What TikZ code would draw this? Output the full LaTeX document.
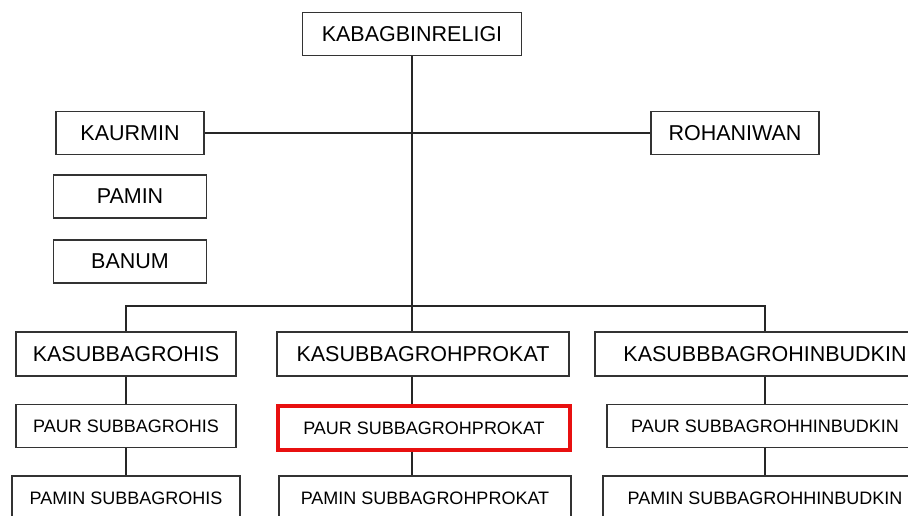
\documentclass[tikz,border=0pt]{standalone}
\usepackage{fontspec}
\setmainfont{Liberation Sans}
\usepackage{tikz}
\definecolor{markred}{RGB}{232,16,16}

\begin{document}
\begin{tikzpicture}[x=1pt,y=-1pt,node distance=72pt,
	main node/.style={rectangle,draw=black!80,line width=1.8pt,fill=white,inner sep=0pt,minimum height=43pt,font=\fontsize{21.5}{24}\selectfont},
	small node/.style={main node,font=\fontsize{18}{21}\selectfont},
	link/.style={draw=black!85,line width=2pt}]
		
		\useasboundingbox (0,0) rectangle (908,515);
		\clip (0,0) rectangle (908,515);
		
		\node[main node, minimum width=219pt] (kabag) at (412,34) {KABAGBINRELIGI};
		\node[main node, minimum width=148pt] (kaurmin) at (130,133) {KAURMIN};
		\node[main node, minimum width=153pt] (pamin) at (130,196.5) {PAMIN};
		\node[main node, minimum width=153pt] (banum) at (130,261.5) {BANUM};
		\node[main node, minimum width=168pt] (rohaniwan) at (735,133) {ROHANIWAN};
		\coordinate (bus) at (412,306);
		
		\node[main node, minimum width=220pt, minimum height=44pt] (kasubrohis) at (126,354) {KASUBBAGROHIS};
		\node[main node, minimum width=292pt, minimum height=44pt] (kasubprokat) at (423,354) {KASUBBAGROHPROKAT};
		\node[main node, minimum width=340pt, minimum height=44pt] (kasubhinbudkin) at (765,354) {KASUBBBAGROHINBUDKIN};
		
		\node[small node, minimum width=220pt] (paurrohis) [below of=kasubrohis] {PAUR SUBBAGROHIS};
		\node[small node, minimum width=228pt, minimum height=44pt] (paminrohis) [below of=paurrohis] {PAMIN SUBBAGROHIS};
		\node[small node, minimum width=292pt, minimum height=44pt, style={draw=markred, line width=3.2pt}] (paurprokat) at (424,428) {PAUR SUBBAGROHPROKAT};
		\node[small node, minimum width=292pt, minimum height=44pt] (paminprokat) at (425,498) {PAMIN SUBBAGROHPROKAT};
		\node[small node, minimum width=316pt] (paurhinbudkin) [below of=kasubhinbudkin] {PAUR SUBBAGROHHINBUDKIN};
		\node[small node, minimum width=324pt, minimum height=44pt] (paminhinbudkin) [below of=paurhinbudkin] {PAMIN SUBBAGROHHINBUDKIN};
		
		\draw[link]
		(kabag.south) -- (kabag.south |- kasubprokat.north)
		(kaurmin.east) -- (rohaniwan.west)
		(kasubrohis.north) |- (bus) -| (kasubhinbudkin.north)
		(kasubrohis) -- (paurrohis)
		(paurrohis) -- (paminrohis)
		(kabag |- kasubprokat.south) -- (kabag |- paurprokat.north)
		(kabag |- paurprokat.south) -- (kabag |- paminprokat.north)
		(kasubhinbudkin) -- (paurhinbudkin)
		(paurhinbudkin) -- (paminhinbudkin);
		
		\end{tikzpicture}
\end{document}
